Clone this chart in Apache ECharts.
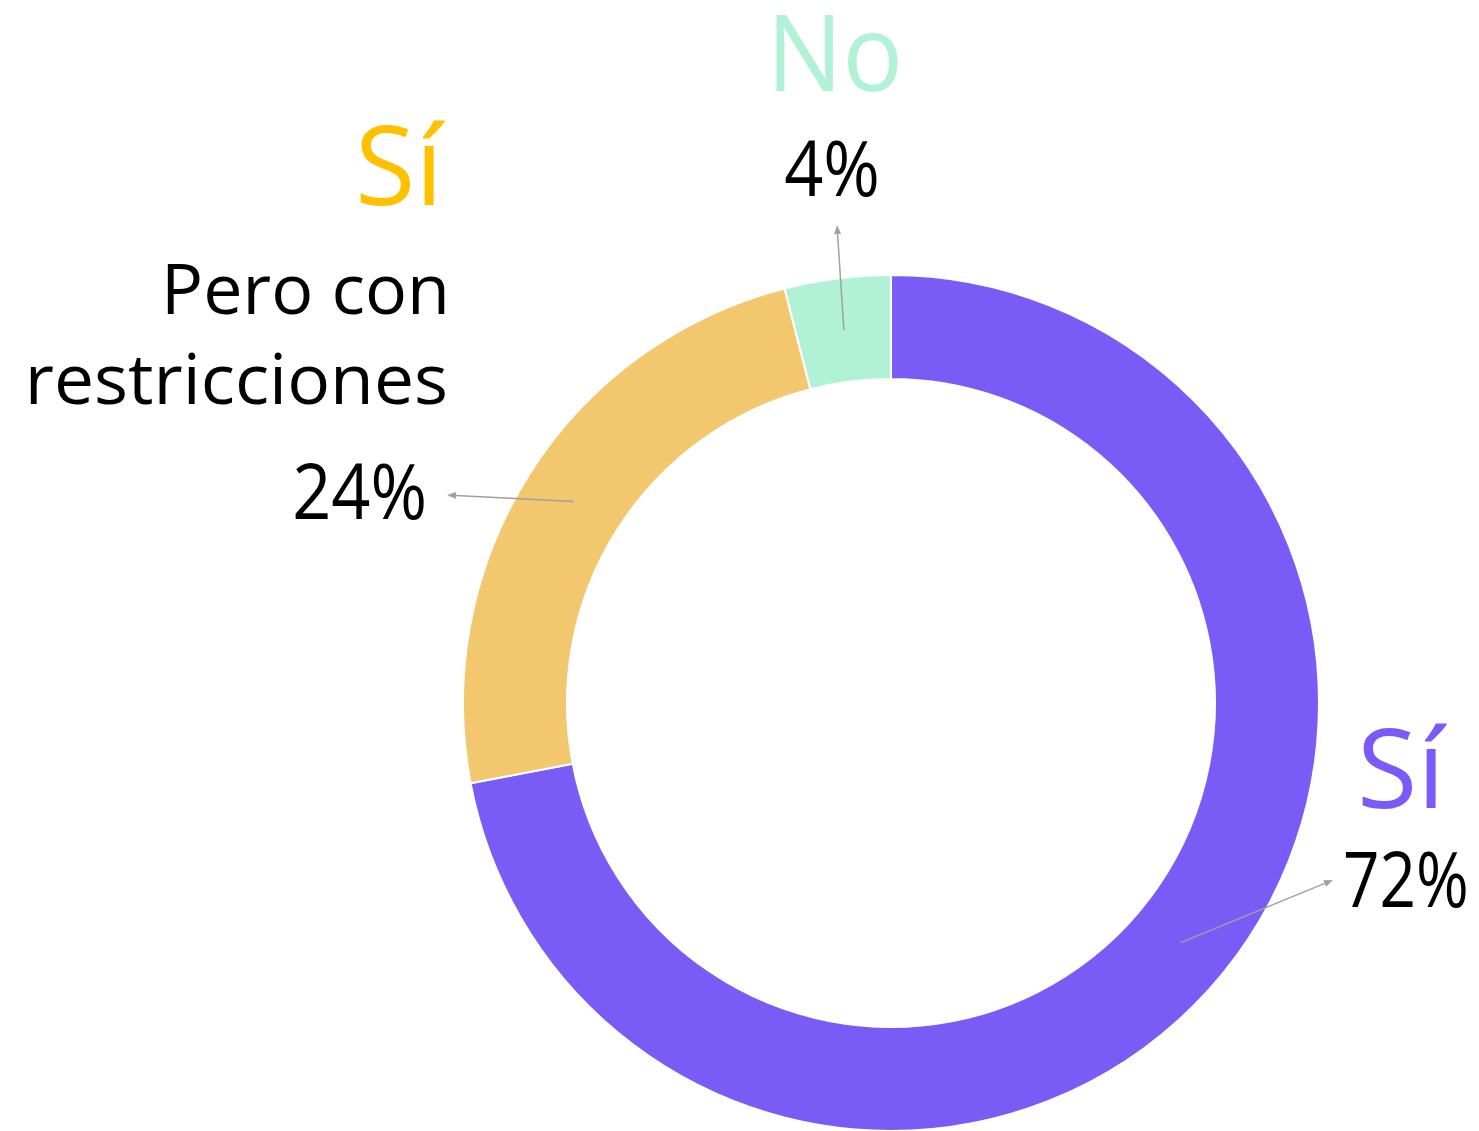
<!DOCTYPE html>
<html>
<head>
<meta charset="utf-8">
<script src="https://cdn.jsdelivr.net/npm/echarts@6/dist/echarts.min.js"></script>
<style>
  html, body { margin: 0; padding: 0; background: #fff; }
  #donut { width: 1479px; height: 1131px; }
</style>
</head>
<body>
<div id="donut"></div>
<script>
// answers, in drawing order (clockwise from the top)
let answers = ['Sí', 'Sí', 'No'];
let answer_notes = ['', 'Pero con restricciones', ''];
let shares = [72, 24, 4];

let slice_colors = ['#795BF5', '#F2C76E', '#B1F2D6'];
let title_colors = ['#7A5AF8', '#FFC000', '#B1F2D6'];

let font = 'Open Sans';

function drawDonut() {
    let my_chart = echarts.init(document.getElementById('donut'));

    let cx = 891, cy = 703, r_in = 324, r_out = 428;
    let total = shares.reduce((a, b) => a + b, 0);

    let display_data = answers.map(function (name, i) {
        return { name: name, value: shares[i], itemStyle: { color: slice_colors[i] } };
    });

    // arrow from the middle of each slice to its label
    let arrow_ends = [[1333, 880], [447, 495], [837, 225]];
    let arrows = [];
    let acc = 0;
    shares.forEach(function (v, i) {
        let mid = (acc + v / 2) / total * Math.PI * 2;
        acc += v;
        let r = (r_in + r_out) / 2;
        let x1 = cx + r * Math.sin(mid);
        let y1 = cy - r * Math.cos(mid);
        let x2 = arrow_ends[i][0], y2 = arrow_ends[i][1];
        let ang = Math.atan2(y2 - y1, x2 - x1);
        let len = 9, wid = 3.5;
        let bx = x2 - len * Math.cos(ang), by = y2 - len * Math.sin(ang);
        arrows.push({
            type: 'line',
            shape: { x1: x1, y1: y1, x2: bx, y2: by },
            style: { stroke: '#a0a0a0', lineWidth: 1.5 },
            z: 10
        });
        arrows.push({
            type: 'polygon',
            shape: { points: [
                [x2, y2],
                [bx + wid * Math.sin(ang), by - wid * Math.cos(ang)],
                [bx - wid * Math.sin(ang), by + wid * Math.cos(ang)]
            ] },
            style: { fill: '#a0a0a0' },
            z: 10
        });
    });

    function label(text, x, baseline, size, color, align, squeeze) {
        return {
            type: 'text',
            x: x,
            y: baseline - 0.30 * size,
            scaleX: squeeze || 1,
            z: 10,
            style: {
                text: text,
                fontFamily: font,
                fontSize: size,
                fill: color,
                align: align,
                verticalAlign: 'middle'
            }
        };
    }

    let notes = answer_notes[1].replace('con ', 'con\n').split('\n');

    let texts = [
        label(answers[2], 835, 93, 106, title_colors[2], 'center', 0.95),
        label(shares[2] + '%', 832, 197, 76, '#000', 'center', 0.9),
        label(answers[1], 443, 207, 110, title_colors[1], 'right'),
        label(notes[0], 450, 315, 70, '#000', 'right'),
        label(notes[1], 448, 405, 70, '#000', 'right', 1.02),
        label(shares[1] + '%', 427, 520, 76, '#000', 'right', 0.9),
        label(answers[0], 1357, 810, 110, title_colors[0], 'left'),
        label(shares[0] + '%', 1343, 908, 76, '#000', 'left', 0.84)
    ];

    let option = {
        backgroundColor: '#fff',
        animation: false,
        series: [
            {
                name: 'Respuesta',
                type: 'pie',
                center: [cx, cy],
                radius: [r_in, r_out],
                startAngle: 90,
                clockwise: true,
                label: { show: false },
                labelLine: { show: false },
                itemStyle: { borderColor: '#fff', borderWidth: 2 },
                data: display_data
            }
        ],
        graphic: arrows.concat(texts)
    };

    my_chart.setOption(option);
}

drawDonut();
</script>
</body>
</html>
